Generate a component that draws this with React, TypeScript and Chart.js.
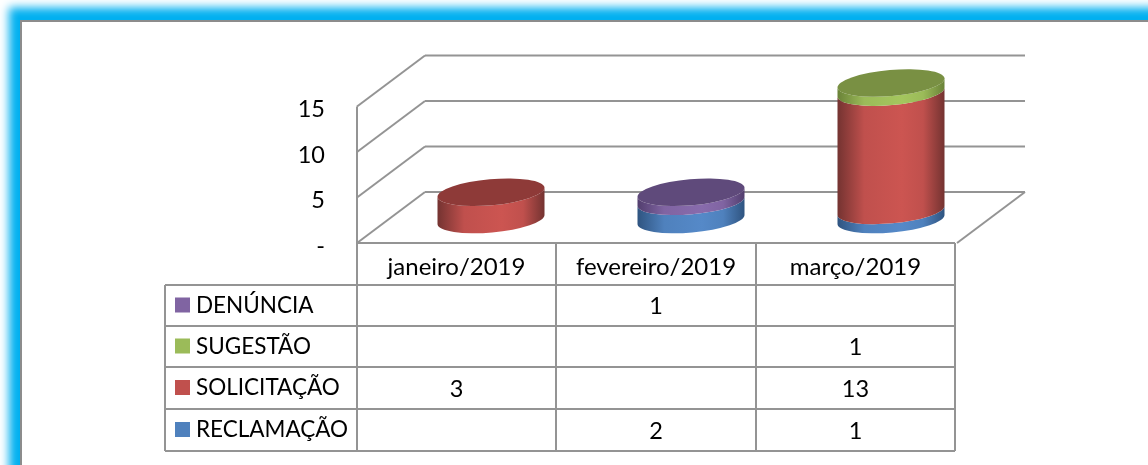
import React, { useEffect, useRef } from "react";
import { Chart, registerables } from "chart.js";

Chart.register(...registerables);

const categories = ["janeiro/2019", "fevereiro/2019", "março/2019"];
const reclamacao = [null, 2, 1];
const solicitacao = [3, null, 13];
const sugestao = [null, null, 1];
const denuncia = [null, 1, null];
const yTicks = [0, 5, 10, 15];

const BLUE = "#4F81BD";
const RED = "#C0504D";
const GREEN = "#9BBB59";
const PURPLE = "#8064A2";

const seriesList = [
  { label: "RECLAMAÇÃO", data: reclamacao, color: BLUE, light: "#5589C8", dark: "#2F5480", cap: "#3D6595" },
  { label: "SOLICITAÇÃO", data: solicitacao, color: RED, light: "#CC5551", dark: "#743331", cap: "#8E3A38" },
  { label: "SUGESTÃO", data: sugestao, color: GREEN, light: "#A4C65E", dark: "#6A8238", cap: "#799043" },
  { label: "DENÚNCIA", data: denuncia, color: PURPLE, light: "#886BAC", dark: "#523E6E", cap: "#5F4A7B" },
];
// top-to-bottom order of the rows of the data table
const tableOrder = [3, 2, 1, 0];

const FONT = "Lato, Carlito, sans-serif";
const LINE = "#949494";
const DEPTH_X = 68;
const DEPTH_Y = 51;
const FRONT_LEFT = 357;
const FRONT_RIGHT = 957;
const TABLE_LEFT = 165;
const TABLE_COLS = [357, 556, 756, 955];
const TABLE_ROWS = [243, 285, 326, 367, 409, 451];
const CAP_B = 13;
const TILT = -0.088;

function seg(ctx: CanvasRenderingContext2D, x1: number, y1: number, x2: number, y2: number) {
  ctx.beginPath();
  ctx.moveTo(x1, y1);
  ctx.lineTo(x2, y2);
  ctx.stroke();
}

const scene = {
  id: "scene3d",
  beforeDatasetsDraw(chart: any) {
    const ctx: CanvasRenderingContext2D = chart.ctx;
    const front = chart.scales.yLabels;
    ctx.save();
    ctx.strokeStyle = LINE;
    ctx.lineWidth = 2;
    // walls and floor
    const topY = front.getPixelForValue(15);
    const baseY = front.getPixelForValue(0);
    seg(ctx, FRONT_LEFT, topY, FRONT_LEFT, baseY);
    for (const v of yTicks) {
      const y = front.getPixelForValue(v);
      seg(ctx, FRONT_LEFT, y, FRONT_LEFT + DEPTH_X, y - DEPTH_Y);
      seg(ctx, FRONT_LEFT + DEPTH_X, y - DEPTH_Y, FRONT_RIGHT + DEPTH_X, y - DEPTH_Y);
    }
    seg(ctx, FRONT_RIGHT + DEPTH_X, baseY - DEPTH_Y, FRONT_RIGHT, baseY);

    // cylinders
    chart.data.datasets.forEach((ds: any, di: number) => {
      const meta = chart.getDatasetMeta(di);
      meta.data.forEach((el: any, i: number) => {
        if (!ds.data[i]) return;
        const a = el.width / 2 / Math.cos(TILT);
        const left = el.x - el.width / 2;
        const right = el.x + el.width / 2;
        const s = seriesList[di];
        const g = ctx.createLinearGradient(left, 0, right, 0);
        g.addColorStop(0, s.dark);
        g.addColorStop(0.25, s.color);
        g.addColorStop(0.6, s.light);
        g.addColorStop(0.8, s.color);
        g.addColorStop(1, s.dark);
        ctx.fillStyle = g;
        ctx.beginPath();
        ctx.ellipse(el.x, el.base, a, CAP_B, TILT, Math.PI, 0, true);
        ctx.ellipse(el.x, el.y, a, CAP_B, TILT, 0, Math.PI, false);
        ctx.closePath();
        ctx.fill();
        const above = chart.data.datasets.slice(di + 1).some((d: any) => d.data[i]);
        if (!above) {
          ctx.fillStyle = s.cap;
          ctx.beginPath();
          ctx.ellipse(el.x, el.y, a, CAP_B, TILT, 0, Math.PI * 2);
          ctx.fill();
        }
      });
    });
    ctx.restore();
  },
  beforeDatasetDraw() {
    return false;
  },
  afterDraw(chart: any) {
    const ctx: CanvasRenderingContext2D = chart.ctx;
    ctx.save();
    ctx.strokeStyle = LINE;
    ctx.lineWidth = 2;
    const r = TABLE_ROWS;
    const c = TABLE_COLS;
    const last = r[r.length - 1];
    for (const x of c) seg(ctx, x, r[0], x, last);
    seg(ctx, TABLE_LEFT, r[1], TABLE_LEFT, last);
    seg(ctx, c[0], r[0], c[3], r[0]);
    for (const y of r.slice(1)) seg(ctx, TABLE_LEFT, y, c[3], y);

    ctx.fillStyle = "#000";
    ctx.font = `24px ${FONT}`;
    ctx.textBaseline = "middle";
    ctx.textAlign = "center";
    categories.forEach((name, i) => {
      ctx.fillText(name, (c[i] + c[i + 1]) / 2, (r[0] + r[1]) / 2 + 3);
    });
    tableOrder.forEach((si, row) => {
      const s = seriesList[si];
      const mid = (r[row + 1] + r[row + 2]) / 2;
      ctx.fillStyle = s.color;
      ctx.fillRect(175, mid - 8, 15, 15);
      ctx.fillStyle = "#000";
      ctx.font = `22.5px ${FONT}`;
      ctx.textAlign = "left";
      ctx.fillText(s.label, 196, mid);
      ctx.font = `23.5px ${FONT}`;
      ctx.textAlign = "center";
      s.data.forEach((v, i) => {
        if (v !== null) ctx.fillText(String(v), (c[i] + c[i + 1]) / 2, mid + 1);
      });
    });
    ctx.restore();
  },
};

export default function App() {
  const ref = useRef<HTMLCanvasElement>(null);
  useEffect(() => {
    const chart = new Chart(ref.current!, {
      type: "bar",
      data: {
        labels: categories,
        datasets: seriesList.map((s) => ({
          label: s.label,
          data: s.data,
          backgroundColor: s.color,
          barThickness: 107,
          yAxisID: "y",
          stack: "all",
        })),
      },
      options: {
        animation: false,
        responsive: false,
        layout: { padding: { left: 0, right: 157, top: 55, bottom: 222 } },
        plugins: { legend: { display: false }, tooltip: { enabled: false } },
        scales: {
          x: { display: false, stacked: true },
          y: { display: false, stacked: true, min: -2.58, max: 18.08 },
          yLabels: {
            position: "left",
            min: 0,
            max: 20.66,
            border: { display: false },
            grid: { display: false, drawTicks: false },
            afterBuildTicks: (axis: any) => {
              axis.ticks = yTicks.map((value) => ({ value }));
            },
            afterFit: (axis: any) => {
              axis.width = 391;
              axis.paddingTop = 0;
              axis.paddingBottom = 0;
            },
            ticks: {
              color: "#000",
              padding: 66,
              labelOffset: 3,
              font: { family: FONT, size: 23.5 },
              callback: (v: any) => (v === 0 ? "-" : String(v)),
            },
          },
        },
      },
      plugins: [scene],
    } as any);
    return () => chart.destroy();
  }, []);
  return (
    <div style={{ position: "fixed", left: 0, top: 0, width: 1148, height: 465, overflow: "hidden", background: "#fff" }}>
      <div
        style={{
          position: "absolute",
          left: 20,
          top: 20,
          width: 1400,
          height: 800,
          background: "#fff",
          borderTop: "2px solid #8C8C8C",
          borderLeft: "2px solid #8C8C8C",
          boxSizing: "border-box",
          boxShadow: "1.5px -1px 9px 12.5px #00B0F0",
        }}
      />
      <canvas ref={ref} width={1148} height={465} style={{ position: "absolute", left: 0, top: 0 }} />
    </div>
  );
}
